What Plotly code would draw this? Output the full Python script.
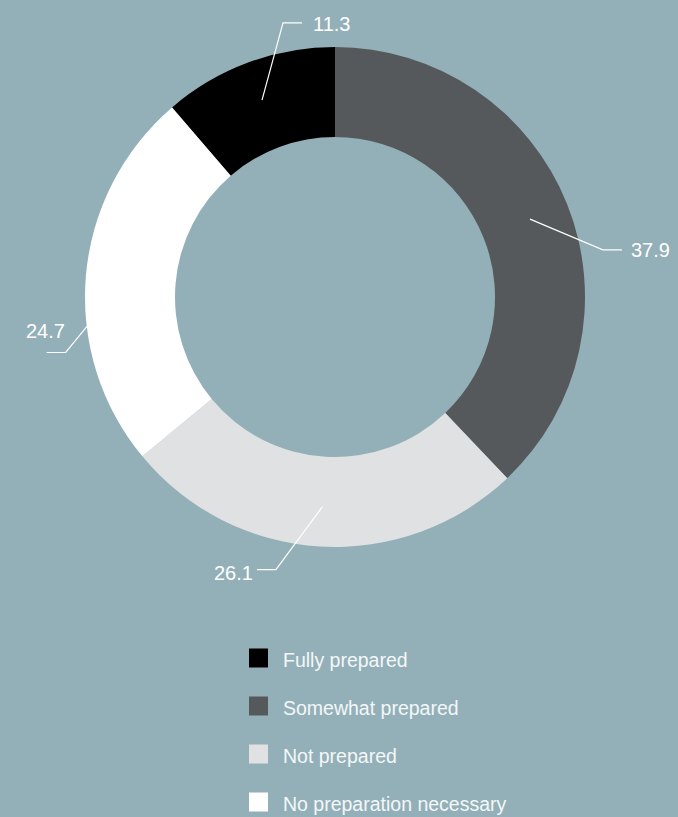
import math
import plotly.graph_objects as go

# ---- data ----
labels = ["Fully prepared", "Somewhat prepared", "Not prepared", "No preparation necessary"]
values = [11.3, 37.9, 26.1, 24.7]
colors = ["#000000", "#55595c", "#e0e1e3", "#ffffff"]

# ---- label layout (style only) ----
label_angle_shift = [9.6, 11.8, 8.8, -16.5]   # degrees, elbow shift from slice mid-angle
label_radius = [279, 272, 279, 275]
label_side = [1, 1, -1, -1]                   # horizontal segment direction
label_text_offset = [(9, 1, "left"), (7, 0, "left"), (-2, 3, "right"), (20, -21, "right")]

W, H = 678, 817
CX, CY, R = 335, 297, 250
HOLE = 0.64
BG = "#93b0b8"
FONT = "Arial, Liberation Sans, sans-serif"


def px(x):
    return x / W


def py(y):
    return 1 - y / H


total = sum(values)
rotation = -360.0 * values[0] / total

fig = go.Figure()
fig.add_trace(go.Pie(
    labels=labels, values=values, sort=False, direction="clockwise",
    rotation=rotation, hole=HOLE, textinfo="none", hoverinfo="label+value",
    marker=dict(colors=colors, line=dict(width=0)),
    domain=dict(x=[px(CX - R), px(CX + R)], y=[py(CY + R), py(CY - R)]),
    showlegend=False,
))

shapes = []
annotations = []

# leader lines + value labels
cum = 0.0
for i, v in enumerate(values):
    mid = rotation + 360.0 * (cum + v / 2) / total
    cum += v
    a = math.radians(mid)
    r1 = 210
    x1, y1 = CX + r1 * math.sin(a), CY - r1 * math.cos(a)
    b = math.radians(mid + label_angle_shift[i])
    r2 = label_radius[i]
    x2, y2 = CX + r2 * math.sin(b), CY - r2 * math.cos(b)
    x3, y3 = x2 + 19 * label_side[i], y2
    shapes.append(dict(
        type="path", xref="paper", yref="paper",
        path=f"M {px(x1)} {py(y1)} L {px(x2)} {py(y2)} L {px(x3)} {py(y3)}",
        line=dict(color="#ffffff", width=1.2),
    ))
    dx, dy, anchor = label_text_offset[i]
    annotations.append(dict(
        x=px(x3 + dx), y=py(y3 + dy), xref="paper", yref="paper",
        text=f"{v}", showarrow=False, xanchor=anchor, yanchor="middle",
        font=dict(family=FONT, size=20, color="#ffffff"),
    ))

# custom legend
LX, LY0, LSTEP, LS = 249, 658, 48, 19
for i, (lab, col) in enumerate(zip(labels, colors)):
    yc = LY0 + i * LSTEP
    shapes.append(dict(
        type="rect", xref="paper", yref="paper",
        x0=px(LX), x1=px(LX + LS), y0=py(yc - LS / 2), y1=py(yc + LS / 2),
        fillcolor=col, line=dict(width=0),
    ))
    annotations.append(dict(
        x=px(LX + LS + 13), y=py(yc + 2), xref="paper", yref="paper",
        text=lab, showarrow=False, xanchor="left", yanchor="middle",
        font=dict(family=FONT, size=19.5, color="#f4f7f8"),
    ))

fig.update_layout(
    width=W, height=H, margin=dict(l=0, r=0, t=0, b=0),
    paper_bgcolor=BG, plot_bgcolor=BG,
    shapes=shapes, annotations=annotations,
    showlegend=False,
)

fig.write_html("out.html")
